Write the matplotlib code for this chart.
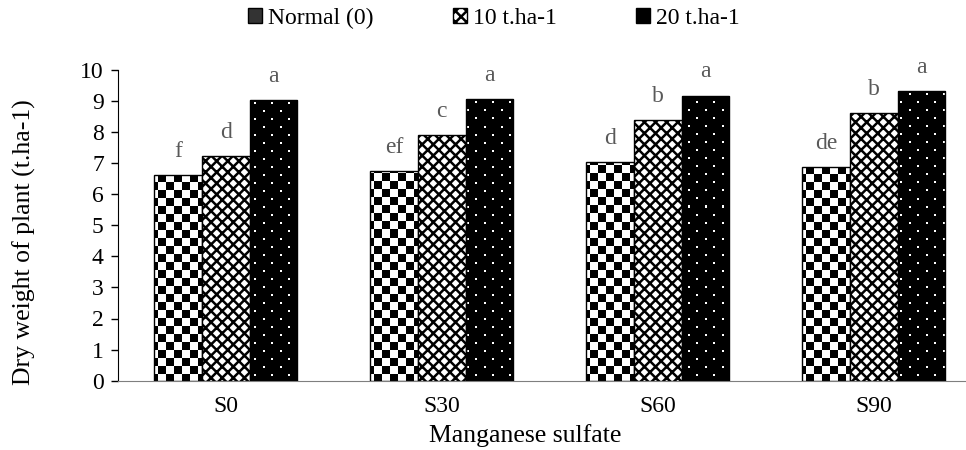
import numpy as np
import matplotlib
matplotlib.use("Agg")
import matplotlib.pyplot as plt
from matplotlib.patches import Patch

plt.rcParams['font.family'] = ['Liberation Serif', 'DejaVu Serif']
plt.rcParams['hatch.linewidth'] = 1.8

categories = ["S0", "S30", "S60", "S90"]
series_names = ["Normal (0)", "10 t.ha-1", "20 t.ha-1"]
normal_vals = [6.62, 6.73, 7.02, 6.88]
t10_vals = [7.21, 7.90, 8.39, 8.61]
t20_vals = [9.03, 9.05, 9.17, 9.30]
normal_letters = ["f", "ef", "d", "de"]
t10_letters = ["d", "c", "b", "b"]
t20_letters = ["a", "a", "a", "a"]
y_ticks = list(range(0, 11))

fig = plt.figure(figsize=(9.66, 4.5), dpi=100)
ax = fig.add_axes([117.7 / 966, 1 - 380.7 / 450, 864 / 966, 311 / 450])
ax.set_xlim(-0.5, 3.5)
ax.set_ylim(0, 10)

x = np.arange(len(categories))
w = 0.221

b1 = ax.bar(x - w, normal_vals, w, facecolor='none', edgecolor='black', linewidth=1.0, zorder=3)
b2 = ax.bar(x, t10_vals, w, facecolor='white', edgecolor='black', hatch='xxx', linewidth=1.0, zorder=3)
b3 = ax.bar(x + w, t20_vals, w, facecolor='none', edgecolor='black', linewidth=1.0, zorder=3)

# texture images (screen-pixel resolution of the axes)
W, H = 864, 311
jj, ii = np.meshgrid(np.arange(W), np.arange(H))
checker = (((jj // 8) + (ii // 8)) % 2).astype(float)  # 1 white, 0 black
dots = np.zeros((H, W))
row = ii // 8
colpos = np.where(row % 2 == 0, jj % 17, (jj + 8) % 17)
dots[((ii % 8) < 2) & (colpos < 2)] = 1.0

ext = (-0.5, 3.5, 0, 10)
for tex, bars in ((checker, b1), (dots, b3)):
    for p in bars:
        im = ax.imshow(tex, extent=ext, origin='upper', cmap='gray', vmin=0, vmax=1,
                       interpolation='nearest', aspect='auto', zorder=2)
        im.set_clip_path(p)
ax.set_xlim(-0.5, 3.5)
ax.set_ylim(0, 10)

for bars, labs in ((b1, normal_letters), (b2, t10_letters), (b3, t20_letters)):
    for p, lab in zip(bars, labs):
        ax.annotate(lab, (p.get_x() + p.get_width() / 2, p.get_height()),
                    xytext=(0, 13), textcoords='offset points',
                    ha='center', va='baseline', fontsize=17, color='#595959')

ax.set_xticks(x)
ax.set_xticklabels(categories, fontsize=17)
ax.set_yticks(y_ticks)
ax.set_yticklabels([str(t) for t in y_ticks], fontsize=17)
ax.tick_params(axis='x', length=0, pad=11)
ax.tick_params(axis='y', length=5, width=1, direction='out', pad=5)
for s in ('top', 'right'):
    ax.spines[s].set_visible(False)
ax.spines['left'].set_color('black')
ax.spines['bottom'].set_color('#7f7f7f')

ax.set_ylabel("Dry weight of plant (t.ha-1)", fontsize=18.5)
ax.yaxis.set_label_coords((36 - 117.7) / 864, (380.7 - 242) / 311)
ax.set_xlabel("Manganese sulfate", fontsize=18.5)
ax.xaxis.set_label_coords((525 - 117.7) / 864, (380.7 - 424) / 311)

handles = [Patch(facecolor='#333333', edgecolor='black'),
           Patch(facecolor='white', edgecolor='black', hatch='xxx'),
           Patch(facecolor='black', edgecolor='black')]
fig.legend(handles, series_names, loc='center', bbox_to_anchor=(494 / 966, 1 - 18 / 450),
           ncol=3, frameon=False, fontsize=17, handlelength=0.6, handleheight=0.6,
           handletextpad=0.25, columnspacing=3.35)

fig.savefig("out.png", dpi=100)
